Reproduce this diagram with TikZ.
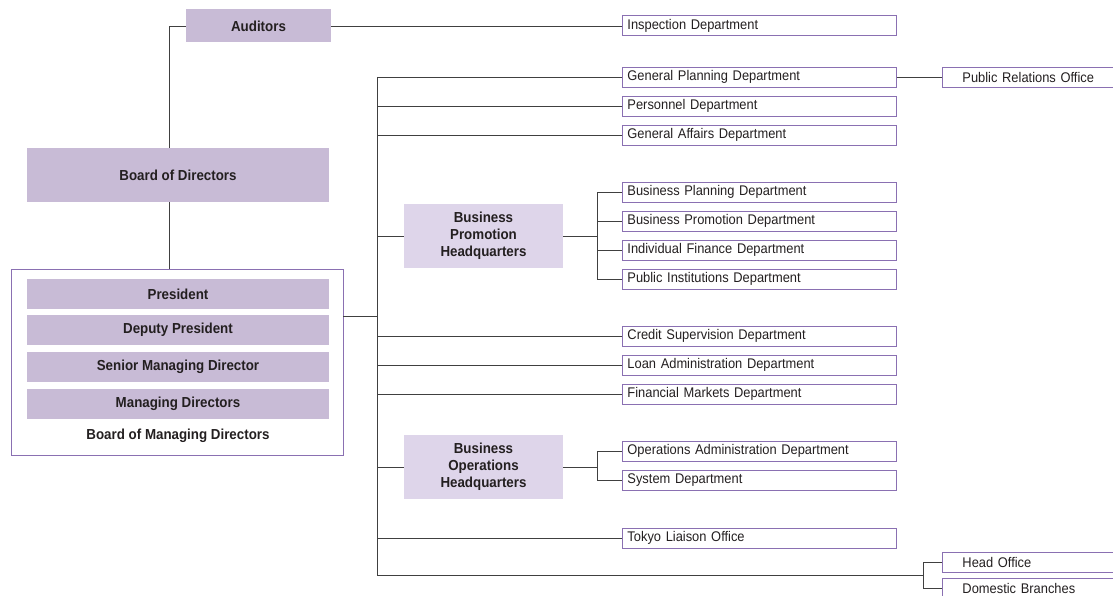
\documentclass[tikz,border=0pt]{standalone}
\usepackage{fontspec}
\setmainfont{Liberation Sans}[FakeStretch=0.92]
\usepackage{xcolor}
\usepackage{tikz}
\usetikzlibrary{positioning, calc}
\definecolor{mauve}{RGB}{200,187,214}
\definecolor{mauvelt}{RGB}{222,213,234}
\definecolor{frame}{RGB}{138,112,178}
\definecolor{wire}{RGB}{64,64,64}
\definecolor{ink}{RGB}{35,31,32}

\begin{document}
\begin{tikzpicture}[
  x=1pt,y=-1pt,
  font=\fontsize{14}{17}\selectfont,text=ink,
  board/.style={fill=mauve,minimum width=302pt,minimum height=30pt,
                inner sep=0pt,font=\fontsize{14.5}{17}\selectfont\bfseries},
  hq/.style={fill=mauvelt,minimum width=159pt,minimum height=64pt,
             align=center,inner sep=0pt,font=\fontsize{14.5}{17}\selectfont\bfseries},
  dept/.style={draw=frame,line width=0.9pt,anchor=west,text width=264pt,
               align=left,inner xsep=5pt,inner ysep=0pt,minimum height=20pt},
  office/.style={draw=frame,line width=0.9pt,anchor=west,text width=160pt,
                 align=left,inner xsep=20pt,inner ysep=0pt,minimum height=20pt},
  conn/.style={draw=wire,line width=0.8pt}
]
  \useasboundingbox (0,0) rectangle (1113,596);

  % top of the organisation
  \node[board,minimum width=145pt,minimum height=33pt] (auditors) at (258.5,26) {Auditors};
  \node[board,minimum height=54pt] (board) at (178,175) {Board of Directors};
  \node[draw=frame,line width=0.9pt,minimum width=332pt,minimum height=186pt] (bomd) at (177,362) {};
  \node[board] (pres) at (178,294) {President};
  \node[board] (deputy) at (178,330) {Deputy President};
  \node[board] (senior) at (178,367) {Senior Managing Director};
  \node[board] (mgdir) at (178,404) {Managing Directors};
  \node[font=\fontsize{14.5}{17}\selectfont\bfseries] (bomdlbl) at (178,436) {Board of Managing Directors};

  % departments
  \node[dept] (inspect) at (622,25.5) {Inspection Department};
  \node[dept] (genplan) at (622,77) {General Planning Department};
  \node[dept] (personnel) at (622,106) {Personnel Department};
  \node[dept] (genaff) at (622,135) {General Affairs Department};
  \node[hq] (bph) at (483.5,236) {Business\\Promotion\\Headquarters};
  \node[dept] (bplan) at (622,192) {Business Planning Department};
  \node[dept] (bpromo) at (622,221) {Business Promotion Department};
  \node[dept] (indfin) at (622,250) {Individual Finance Department};
  \node[dept] (pubinst) at (622,279) {Public Institutions Department};
  \node[dept] (credit) at (622,336) {Credit Supervision Department};
  \node[dept] (loan) at (622,365) {Loan Administration Department};
  \node[dept] (finmkt) at (622,394) {Financial Markets Department};
  \node[hq] (boh) at (483.5,467) {Business\\Operations\\Headquarters};
  \node[dept] (opsadmin) at (622,451) {Operations Administration Department};
  \node[dept] (system) at (622,480) {System Department};
  \node[dept] (tokyo) at (622,538) {Tokyo Liaison Office};
  \node[office] (pr) at (942,77) {Public Relations Office};
  \node[office] (headoff) at (942,562) {Head Office};
  \node[office] (branches) at (942,588) {Domestic Branches};

  \coordinate (vline) at (169,0);
  \coordinate (trunk) at (377,0);
  \coordinate (junc) at (377,316);
  \coordinate (trunkend) at (377,575);
  \coordinate (hqbar) at (597,0);
  \coordinate (brbar) at (923,575);

  % auditors and boards
  \draw[conn] (auditors.west) -| (vline |- board.north);
  \draw[conn] (auditors.east) -- (auditors.east -| inspect.west);
  \draw[conn] (board.south -| vline) -- (bomd.north -| vline);
  \draw[conn] (bomd.east |- junc) -- (junc);

  % main trunk and its branches
  \draw[conn] (genplan.west -| trunk) -- (trunkend) -- (brbar);
  \foreach \d in {genplan,personnel,genaff,credit,loan,finmkt,tokyo}
    \draw[conn] (\d.west -| trunk) -- (\d.west);
  \foreach \d in {bph,boh}
    \draw[conn] (\d.west -| trunk) -- (\d.west);
  \draw[conn] (genplan.east) -- (pr.west);

  % headquarters brackets
  \draw[conn] (bph.east) -- (bph.east -| hqbar);
  \draw[conn] (bplan.west) -- (bplan.west -| hqbar) -- (pubinst.west -| hqbar) -- (pubinst.west);
  \foreach \d in {bpromo,indfin}
    \draw[conn] (\d.west -| hqbar) -- (\d.west);
  \draw[conn] (boh.east) -- (boh.east -| hqbar);
  \draw[conn] (opsadmin.west) -- (opsadmin.west -| hqbar) -- (system.west -| hqbar) -- (system.west);

  % offices and branches
  \draw[conn] (headoff.west) -- (headoff.west -| brbar) -- (branches.west -| brbar) -- (branches.west);
\end{tikzpicture}
\end{document}
